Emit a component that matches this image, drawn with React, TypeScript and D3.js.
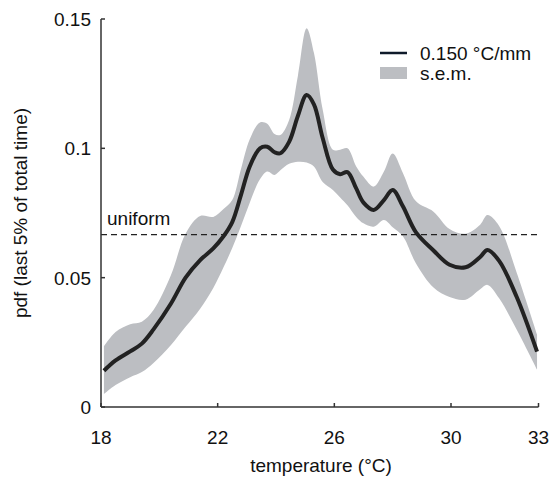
import React from "react";
import * as d3 from "d3";

const temps = [18.1, 18.5, 19.0, 19.4, 19.8, 20.4, 20.9, 21.4, 21.85, 22.2, 22.5, 22.8, 23.1, 23.45, 23.7, 23.95, 24.15, 24.45, 24.75, 25.05, 25.3, 25.6, 25.95, 26.2, 26.45, 26.75, 27.0, 27.35, 27.7, 28.0, 28.35, 28.8, 29.4, 29.95, 30.5, 31.0, 31.25, 31.65, 32.25, 32.95];
const meanPdf = [0.014, 0.018, 0.0215, 0.0245, 0.030, 0.040, 0.050, 0.0568, 0.0613, 0.066, 0.0715, 0.082, 0.093, 0.1, 0.1006, 0.0985, 0.0981, 0.1025, 0.1125, 0.1206, 0.117, 0.104, 0.0918, 0.09, 0.0908, 0.0845, 0.079, 0.0762, 0.08, 0.0839, 0.0776, 0.0675, 0.0605, 0.055, 0.054, 0.058, 0.0607, 0.0565, 0.0426, 0.0214];
const upperPdf = [0.0235, 0.029, 0.032, 0.033, 0.0375, 0.051, 0.067, 0.0738, 0.0735, 0.0765, 0.080, 0.092, 0.1035, 0.110, 0.1095, 0.1055, 0.1052, 0.111, 0.128, 0.1464, 0.137, 0.115, 0.0995, 0.0995, 0.1, 0.093, 0.089, 0.0852, 0.091, 0.098, 0.0905, 0.0795, 0.0755, 0.0688, 0.067, 0.0705, 0.0742, 0.070, 0.052, 0.028];
const lowerPdf = [0.005, 0.0085, 0.0115, 0.0135, 0.017, 0.024, 0.031, 0.038, 0.046, 0.054, 0.0615, 0.070, 0.079, 0.088, 0.091, 0.0897, 0.0915, 0.094, 0.0948, 0.0945, 0.093, 0.087, 0.0839, 0.081, 0.078, 0.0735, 0.071, 0.0697, 0.0723, 0.0695, 0.066, 0.0555, 0.0462, 0.0425, 0.0415, 0.0455, 0.0472, 0.042, 0.030, 0.0145];
const xTicks = [18, 22, 26, 30, 33];
const yTicks = [0, 0.05, 0.1, 0.15];
const yTickLabels = ["0", "0.05", "0.1", "0.15"];
const uniformLevel = 1 / 15;

export default function App() {
  const x = d3.scaleLinear().domain([18, 33]).range([101, 538.5]);
  const y = d3.scaleLinear().domain([0, 0.15]).range([407, 19]);
  const idx = temps.map((_, i) => i);
  const area = d3
    .area<number>()
    .x((i) => x(temps[i]))
    .y0((i) => y(lowerPdf[i]))
    .y1((i) => y(upperPdf[i]))
    .curve(d3.curveCatmullRom.alpha(0.5));
  const line = d3
    .line<number>()
    .x((i) => x(temps[i]))
    .y((i) => y(meanPdf[i]))
    .curve(d3.curveCatmullRom.alpha(0.5));
  const font = "Liberation Sans, Arial, sans-serif";
  const axisColor = "#333";
  const fs = 19;
  return (
    <svg width={550} height={478} style={{ position: "absolute", left: 0, top: 0 }} fontFamily={font}>
      <rect width={550} height={478} fill="#fff" />
      <path d={area(idx) || ""} fill="#bcbec2" stroke="none" />
      <line x1={x(18)} x2={x(33)} y1={y(uniformLevel)} y2={y(uniformLevel)} stroke="#222" strokeWidth={1.3} strokeDasharray="6,4" />
      <path d={line(idx) || ""} fill="none" stroke="#222" strokeWidth={4} strokeLinejoin="round" strokeLinecap="butt" />
      <text x={107} y={225} fontSize={fs} fill="#111">uniform</text>
      <line x1={x(18)} x2={x(33)} y1={y(0)} y2={y(0)} stroke={axisColor} strokeWidth={1.5} />
      <line x1={x(18)} x2={x(18)} y1={y(0)} y2={y(0.15)} stroke={axisColor} strokeWidth={1.5} />
      {xTicks.map((t) => (
        <g key={"xt" + t}>
          <line x1={x(t)} x2={x(t)} y1={y(0)} y2={y(0) - 4} stroke={axisColor} strokeWidth={1.5} />
          <text x={x(t)} y={444} fontSize={fs} textAnchor="middle" fill="#111">{t}</text>
        </g>
      ))}
      {yTicks.map((t, i) => (
        <g key={"yt" + t}>
          <line x1={x(18)} x2={x(18) + 4} y1={y(t)} y2={y(t)} stroke={axisColor} strokeWidth={1.5} />
          <text x={x(18) - 10} y={y(t) + 7} fontSize={fs} textAnchor="end" fill="#111">{yTickLabels[i]}</text>
        </g>
      ))}
      <text x={321} y={472} fontSize={fs} textAnchor="middle" fill="#111">temperature (°C)</text>
      <text transform={`translate(27,213) rotate(-90)`} fontSize={fs} textAnchor="middle" fill="#111">pdf (last 5% of total time)</text>
      <line x1={380} x2={407} y1={53} y2={53} stroke="#0f1a2a" strokeWidth={2.5} />
      <rect x={380} y={67} width={27} height={12} fill="#bcbec2" />
      <text x={420} y={60} fontSize={fs} fill="#111">0.150 °C/mm</text>
      <text x={420} y={80} fontSize={fs} fill="#111">s.e.m.</text>
    </svg>
  );
}
